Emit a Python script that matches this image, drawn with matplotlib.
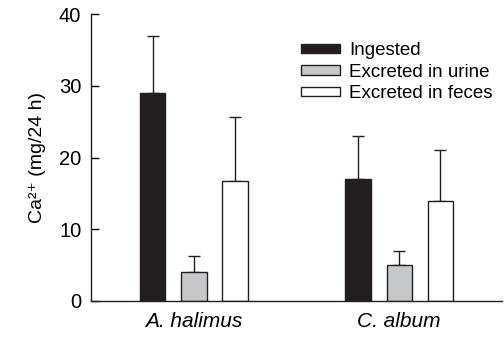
import matplotlib
matplotlib.use("Agg")
import matplotlib.pyplot as plt
import numpy as np
from matplotlib.patches import Patch

plt.rcParams['font.family'] = ['Liberation Sans', 'DejaVu Sans']

species = ["A. halimus", "C. album"]
series = ["Ingested", "Excreted in urine", "Excreted in feces"]
ingested = [29, 17]
ingested_err = [8, 6]
urine = [4, 5]
urine_err = [2.3, 2.0]
feces = [16.7, 14]
feces_err = [9, 7]
yticks = [0, 10, 20, 30, 40]

colors = ["#231f20", "#c6c7c8", "#ffffff"]
values = [ingested, urine, feces]
errors = [ingested_err, urine_err, feces_err]

fig = plt.figure(figsize=(5.04, 3.37), dpi=100)
ax = fig.add_axes([0.1806, 0.107, 0.8154, 0.8506])

centers = np.array([0.5, 1.5])
offsets = [-0.2, 0.0, 0.2]
width = 0.124
for vals, errs, col, off, lab in zip(values, errors, colors, offsets, series):
    ax.bar(centers + off, vals, width, color=col, edgecolor="#231f20",
           linewidth=1.0, label=lab, zorder=2)
    ax.errorbar(centers + off, vals, yerr=[np.zeros(len(errs)), errs],
                fmt="none", ecolor="#231f20", elinewidth=1.0, capsize=4.5,
                capthick=1.0, zorder=1)

ax.set_xlim(0, 2)
ax.set_ylim(0, 40)
ax.set_yticks(yticks)
ax.set_xticks(centers)
ax.set_xticklabels(species, fontstyle="italic", fontsize=15)
ax.tick_params(axis="x", length=0, pad=8)
ax.tick_params(axis="y", direction="in", length=6, width=1, labelsize=14.5, pad=7)
for s in ["top", "right"]:
    ax.spines[s].set_visible(False)
for s in ["left", "bottom"]:
    ax.spines[s].set_linewidth(1.0)
    ax.spines[s].set_color("#231f20")
ax.set_ylabel("Ca\u00b2\u207a (mg/24 h)", fontsize=14, labelpad=9)

handles = [Patch(facecolor=c, edgecolor="#231f20", linewidth=1.0) for c in colors]
ax.legend(handles, series, loc="upper left", bbox_to_anchor=(0.511, 0.902),
          frameon=False, fontsize=13.5, handlelength=2.08, handleheight=0.37,
          handletextpad=0.48, labelspacing=0.23, borderaxespad=0, borderpad=0)

fig.savefig("out.png", dpi=100)
